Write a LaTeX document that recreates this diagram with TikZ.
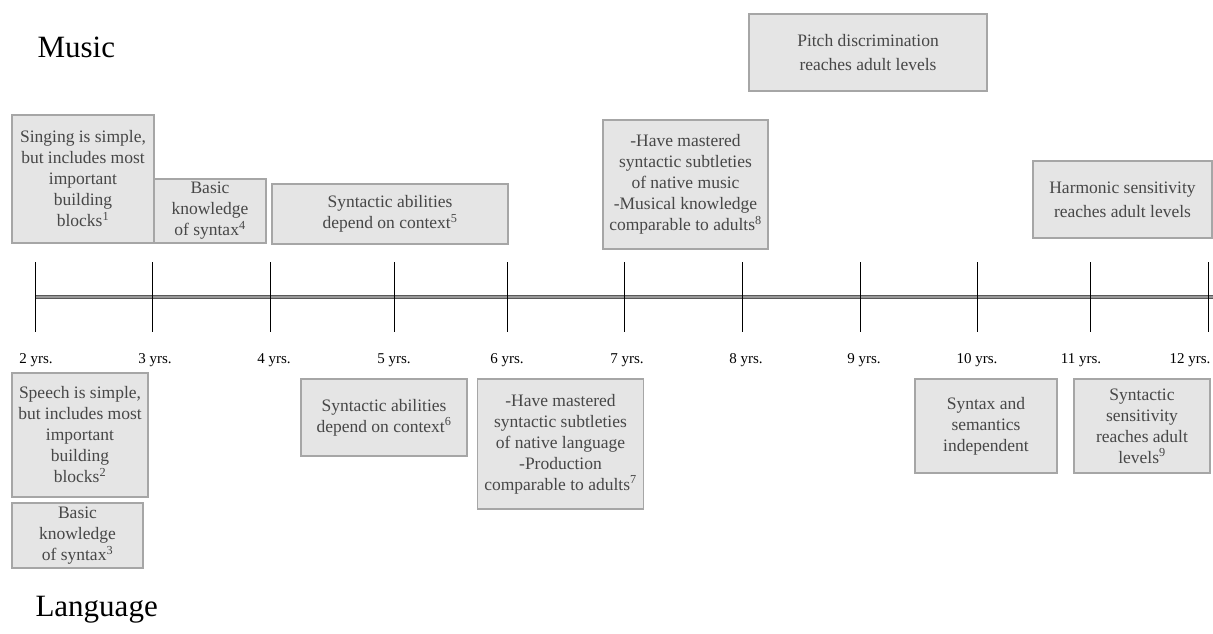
\documentclass[tikz,border=0pt]{standalone}
\usepackage{fontspec}
\setmainfont{Liberation Serif}
\begin{document}
\begin{tikzpicture}[x=1pt,y=-1pt,
  event/.style={draw=black!35, line width=1.1pt, fill=black!10, text=black!72,
    inner sep=0pt, align=center, font=\fontsize{17.5}{21}\selectfont},
  yearlabel/.style={font=\fontsize{15}{17}\selectfont, anchor=base},
  title/.style={font=\fontsize{31}{36}\selectfont, anchor=base west},
  axis/.style={draw=black!65, double=black!40, double distance=1.3pt, line width=0.9pt},
  tick/.style={draw=black, line width=0.8pt}]
\useasboundingbox (0,0) rectangle (1213,633);

% titles
\node[title] (music) at (34,57) {Music};
\node[title] (language) at (32,616) {Language};

% time axis
\foreach \yr/\x in {2/35,3/152,4/270,5/394,6/507,7/624,8/742,9/860,10/977,11/1090,12/1208}
  \coordinate (t\yr) at (\x,297);
\coordinate (axend) at (1213,297);
\draw[axis] (t2) -- (axend);
\foreach \yr in {2,...,12}
  \draw[tick] (t\yr) ++(0,-35) -- ++(0,70);

% year labels
\foreach \yr/\x in {2/36,3/155,4/274,5/394,6/507,7/627,8/746,9/864,10/977,11/1081,12/1190}
  \node[yearlabel] (y\yr) at (\x,363) {\yr\ yrs.};

% music milestones (above the axis)
\node[event, minimum width=142pt, minimum height=128pt] (sing) at (83,179)
  {Singing is simple,\\but includes most\\important\\building\\blocks\textsuperscript{1}};
\node[event, minimum width=112pt, minimum height=64pt] (basicM) at (210,211)
  {Basic\\knowledge\\of syntax\textsuperscript{4}};
\node[event, minimum width=236pt, minimum height=60pt] (synM) at (390,214)
  {Syntactic abilities\\depend on context\textsuperscript{5}};
\node[event, minimum width=165pt, minimum height=129pt] (mastM) at (685.5,184.5)
  {-Have mastered\\syntactic subtleties\\of native music\\-Musical knowledge\\comparable to adults\textsuperscript{8}};
\node[event, minimum width=238pt, minimum height=77pt, font=\fontsize{17.5}{24}\selectfont] (pitch) at (868,52.5)
  {Pitch discrimination\\reaches adult levels};
\node[event, minimum width=179pt, minimum height=77pt, font=\fontsize{17.5}{24}\selectfont] (harm) at (1122.5,199.5)
  {Harmonic sensitivity\\reaches adult levels};

% language milestones (below the axis)
\node[event, minimum width=136pt, minimum height=124pt] (speech) at (80,435)
  {Speech is simple,\\but includes most\\important\\building\\blocks\textsuperscript{2}};
\node[event, minimum width=131pt, minimum height=65pt] (basicL) at (77.5,535.5)
  {Basic\\knowledge\\of syntax\textsuperscript{3}};
\node[event, minimum width=166pt, minimum height=77pt] (synL) at (384,417.5)
  {Syntactic abilities\\depend on context\textsuperscript{6}};
\node[event, minimum width=166pt, minimum height=130pt] (mastL) at (560.5,444)
  {-Have mastered\\syntactic subtleties\\of native language\\-Production\\comparable to adults\textsuperscript{7}};
\node[event, minimum width=142pt, minimum height=94pt] (indep) at (986,426)
  {Syntax and\\semantics\\independent};
\node[event, minimum width=136pt, minimum height=94pt] (sens) at (1142,426)
  {Syntactic\\sensitivity\\reaches adult\\levels\textsuperscript{9}};
\end{tikzpicture}
\end{document}
